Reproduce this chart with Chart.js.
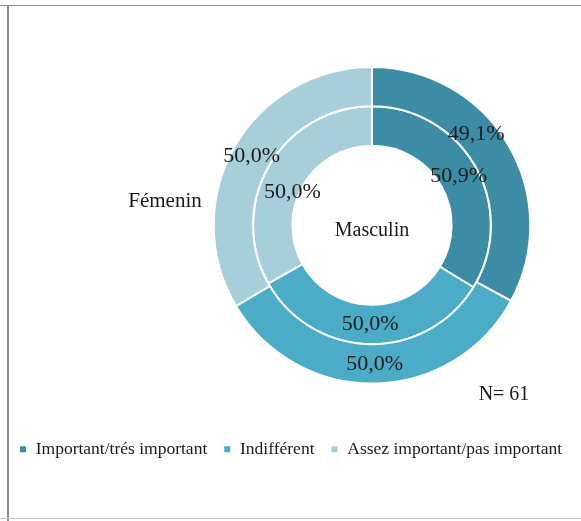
<!DOCTYPE html>
<html>
<head>
<meta charset="utf-8">
<script src="https://cdn.jsdelivr.net/npm/chart.js@4.4.0/dist/chart.umd.min.js"></script>
<style>
    html, body { margin: 0; padding: 0; background: #fff; }
    #wrap { position: relative; width: 581px; height: 521px; overflow: hidden; }
    #wrap canvas { position: absolute; left: 0; top: 0; }
    .frame { position: absolute; }
    #frameTop { left: 0; top: 5px; width: 581px; height: 1px; background: #8a8a8a; }
    #frameLeft { left: 7px; top: 5px; width: 2px; height: 516px; background: #8a8a8a; }
    #frameBottom { left: 0; top: 518px; width: 581px; height: 1px; background: #c9c9c9; }
</style>
</head>
<body>
<div id="wrap">
    <canvas id="genderChart" width="581" height="521"></canvas>
    <div class="frame" id="frameTop"></div>
    <div class="frame" id="frameLeft"></div>
    <div class="frame" id="frameBottom"></div>
</div>
<script>
/* ====== DATA ====== */
const categories = ["Important/trés important", "Indifférent", "Assez important/pas important"];
const femenin = [49.1, 50.0, 50.0];   // outer ring
const masculin = [50.9, 50.0, 50.0];  // inner ring
const sliceColors = ["#3d8ca5", "#4aacc6", "#a7cedb"];
const sampleNote = "N= 61";

// small nudges for the two labels that are not at the slice centre
const labelShift = [
    [[-15, -20], [0, 0], [0, 0]],
    [[0, 0], [0, 0], [6, 17]]
];

const serif = "'Liberation Serif', 'DejaVu Serif', serif";
const fmt = v => v.toFixed(1).replace(".", ",") + "%";

/* ====== LABELS ON THE RINGS ====== */
const ringLabels = {
    id: "ringLabels",
    afterDatasetsDraw(chart) {
        const ctx = chart.ctx;
        ctx.save();
        ctx.fillStyle = "#1a1a1a";
        ctx.textAlign = "center";
        ctx.textBaseline = "middle";
        ctx.font = "22px " + serif;
        chart.data.datasets.forEach((ds, i) => {
            chart.getDatasetMeta(i).data.forEach((arc, j) => {
                const p = arc.tooltipPosition();
                const s = labelShift[i][j];
                ctx.fillText(fmt(ds.data[j]), p.x + s[0], p.y + s[1]);
            });
        });
        const c = chart.getDatasetMeta(0).data[0];
        ctx.font = "20px " + serif;
        ctx.fillText(chart.data.datasets[1].label, c.x, c.y + 5);
        ctx.font = "21px " + serif;
        ctx.fillText(chart.data.datasets[0].label, c.x - 207, c.y - 24);
        ctx.font = "20px " + serif;
        ctx.fillText(sampleNote, c.x + 132, c.y + 169);
        ctx.restore();
    }
};

new Chart(document.getElementById("genderChart"), {
    type: "doughnut",
    data: {
        labels: categories,
        datasets: [
            { label: "Fémenin", data: femenin, backgroundColor: sliceColors, borderColor: "#fff", borderWidth: 2 },
            { label: "Masculin", data: masculin, backgroundColor: sliceColors, borderColor: "#fff", borderWidth: 2 }
        ]
    },
    options: {
        responsive: false,
        animation: false,
        cutout: "50.3%",
        layout: { padding: { top: 66, bottom: 53, left: 0, right: 0 } },
        plugins: {
            tooltip: { enabled: false },
            title: {
                display: true, text: "", position: "left", fullSize: false,
                font: { size: 10 }, padding: { top: 0, bottom: 200 }
            },
            subtitle: {
                display: true, text: "", position: "right", fullSize: false,
                font: { size: 10 }, padding: { top: 0, bottom: 37 }
            },
            legend: {
                position: "bottom",
                title: { display: true, text: "", font: { size: 10 }, padding: { top: 28, bottom: 0 } },
                labels: {
                    boxWidth: 8, boxHeight: 8, padding: 16,
                    color: "#1a1a1a",
                    font: { family: serif, size: 17.5 }
                }
            }
        }
    },
    plugins: [ringLabels]
});
</script>
</body>
</html>
